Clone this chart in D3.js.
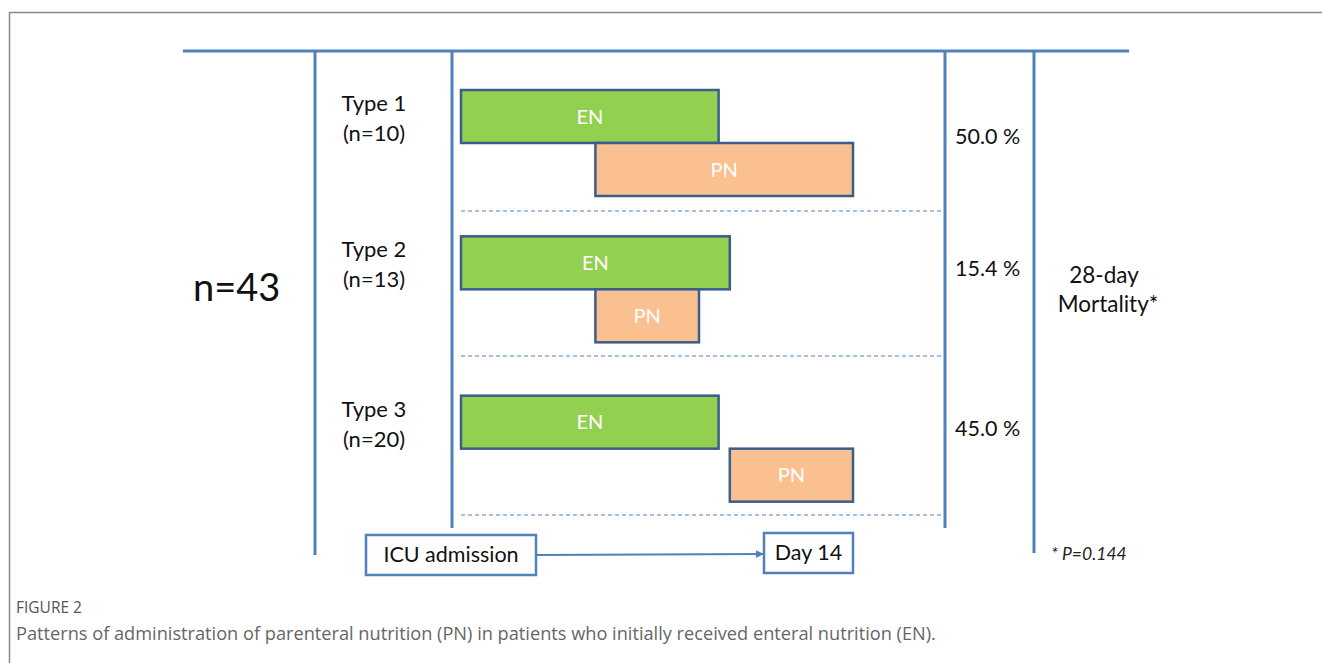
<!DOCTYPE html>
<html>
<head>
  <meta charset="utf-8">
  <script src="https://d3js.org/d3.v7.min.js"></script>
  <style>
    body { margin: 0; background: #fff; }
    svg text { font-family: Lato, "Open Sans", sans-serif; }
  </style>
</head>
<body>
  <div id="chart"></div>
  <script>
    // pattern types, shown top to bottom
    var types = ["Type 1", "Type 2", "Type 3"];
    var counts = ["(n=10)", "(n=13)", "(n=20)"];
    var mortality = ["50.0 %", "15.4 %", "45.0 %"];
    // days from ICU admission (schematic)
    var enStart = [0, 0, 0];
    var enEnd = [9.2, 9.6, 9.2];
    var pnStart = [4.8, 4.8, 9.6];
    var pnEnd = [14, 8.5, 14];
    var dayLabels = ["ICU admission", "Day 14"];

    var width = 1322, height = 663;
    var blue = "#4f81bd", dark = "#3a5d8c";

    var svg = d3.select("#chart").append("svg")
      .attr("width", width).attr("height", height);

    // figure frame (top and left edges)
    svg.append("path")
      .attr("d", "M9.5,663 V12.5 H1322")
      .attr("fill", "none").attr("stroke", "#8a8a8a").attr("stroke-width", 1.5);

    var x = d3.scaleLinear().domain([0, 14]).range([461, 853]);
    var y = d3.scaleBand().domain(types).range([72, 517]);
    var rowOffset = [18, 16, 27]; // visual tweak per row from the layout
    var pctOffset = [54, 40, 40];
    var barH = 53;

    // structure lines
    svg.append("line").attr("x1", 183).attr("x2", 1129).attr("y1", 51).attr("y2", 51)
      .attr("stroke", blue).attr("stroke-width", 3);
    [[315, 555], [452, 528], [945, 528], [1034, 553]].forEach(function(d) {
      svg.append("line").attr("x1", d[0]).attr("x2", d[0]).attr("y1", 51).attr("y2", d[1])
        .attr("stroke", blue).attr("stroke-width", 3);
    });

    var rows = svg.selectAll(".row").data(types).enter().append("g")
      .attr("class", "row")
      .attr("transform", function(d, i) { return "translate(0," + (y(d) + rowOffset[i]) + ")"; });

    function bar(g, x0, x1, top, fill, label) {
      g.append("rect")
        .attr("x", x(x0)).attr("y", top)
        .attr("width", x(x1) - x(x0)).attr("height", barH)
        .attr("fill", fill).attr("stroke", dark).attr("stroke-width", 2.5);
      g.append("text")
        .attr("x", (x(x0) + x(x1)) / 2).attr("y", top + barH / 2 + 7)
        .attr("text-anchor", "middle").attr("fill", "#fff")
        .attr("font-size", 20).text(label);
    }

    rows.each(function(d, i) {
      var g = d3.select(this);
      bar(g, enStart[i], enEnd[i], 0, "#92d050", "EN");
      bar(g, pnStart[i], pnEnd[i], barH, "#fac090", "PN");
      g.append("text").attr("x", 374).attr("y", 21).attr("text-anchor", "middle")
        .attr("font-size", 22).attr("fill", "#111").text(types[i]);
      g.append("text").attr("x", 374).attr("y", 51).attr("text-anchor", "middle")
        .attr("font-size", 22).attr("fill", "#111").text(counts[i]);
      g.append("text").attr("x", 955).attr("y", pctOffset[i])
        .attr("font-size", 21.5).attr("fill", "#111").text(mortality[i]);
    });

    // dashed separators
    var sepY = [211, 356, 515];
    svg.selectAll(".sep").data(sepY).enter().append("line")
      .attr("x1", 461).attr("x2", 942)
      .attr("y1", function(d) { return d; }).attr("y2", function(d) { return d; })
      .attr("stroke", blue).attr("stroke-width", 1).attr("stroke-dasharray", "4,3");

    svg.append("text").attr("x", 193).attr("y", 301)
      .attr("font-size", 38).attr("fill", "#111").text("n=43");

    svg.append("text").attr("x", 1104).attr("y", 283).attr("text-anchor", "middle")
      .attr("font-size", 22.5).attr("fill", "#111").text("28-day");
    svg.append("text").attr("x", 1108).attr("y", 312).attr("text-anchor", "middle")
      .attr("font-size", 22.5).attr("fill", "#111").text("Mortality*");

    svg.append("text").attr("x", 1051).attr("y", 560)
      .attr("font-size", 17.5).attr("font-style", "italic").attr("fill", "#222").text("* P=0.144");

    // timeline
    svg.append("defs").append("marker").attr("id", "arr")
      .attr("viewBox", "0 0 10 10").attr("refX", 9).attr("refY", 5)
      .attr("markerWidth", 4).attr("markerHeight", 4).attr("orient", "auto")
      .append("path").attr("d", "M0,0 L10,5 L0,10 z").attr("fill", blue);

    svg.append("line").attr("x1", 536).attr("x2", 763).attr("y1", 555).attr("y2", 554)
      .attr("stroke", blue).attr("stroke-width", 2).attr("marker-end", "url(#arr)");

    svg.append("rect").attr("x", 366).attr("y", 535).attr("width", 170).attr("height", 40)
      .attr("fill", "#fff").attr("stroke", blue).attr("stroke-width", 2.5);
    svg.append("text").attr("x", 451).attr("y", 562).attr("text-anchor", "middle")
      .attr("font-size", 21.5).attr("fill", "#111").text(dayLabels[0]);

    svg.append("rect").attr("x", 764).attr("y", 533).attr("width", 89).attr("height", 40)
      .attr("fill", "#fff").attr("stroke", blue).attr("stroke-width", 2.5);
    svg.append("text").attr("x", x(14) - 44.5).attr("y", 560).attr("text-anchor", "middle")
      .attr("font-size", 21.5).attr("fill", "#111").text(dayLabels[1]);

    // caption
    svg.append("text").attr("x", 16).attr("y", 613)
      .style("font-family", "'Open Sans', sans-serif")
      .attr("font-size", 15.5).attr("fill", "#555").text("FIGURE 2");
    svg.append("text").attr("x", 16).attr("y", 640)
      .style("font-family", "'Open Sans', sans-serif")
      .attr("font-size", 18.2).attr("fill", "#666")
      .text("Patterns of administration of parenteral nutrition (PN) in patients who initially received enteral nutrition (EN).");
  </script>
</body>
</html>
